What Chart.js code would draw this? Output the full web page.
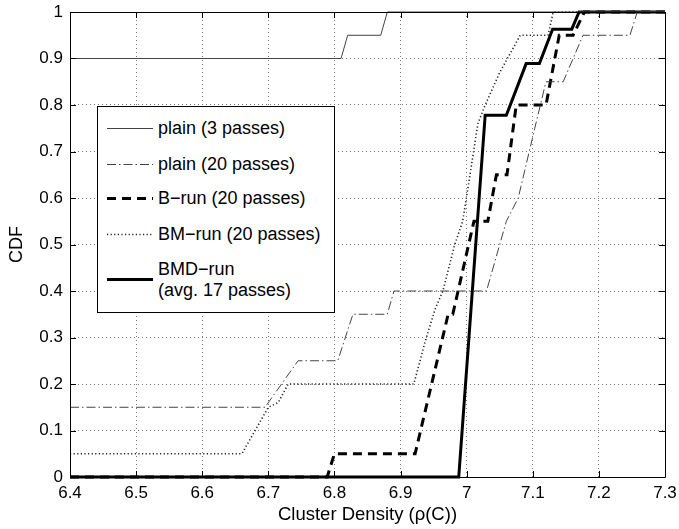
<!DOCTYPE html>
<html>
<head>
<meta charset="utf-8">
<script src="https://cdn.jsdelivr.net/npm/chart.js@4.4.1/dist/chart.umd.min.js"></script>
<style>
  html, body { margin: 0; padding: 0; background: #fff; }
  #wrap { position: relative; width: 679px; height: 529px; }
  #legend {
    position: absolute; left: 97px; top: 106px; width: 236px; height: 205px;
    border: 1px solid #000; background: #fff;
    font-family: "Liberation Sans", Arial, Helvetica, sans-serif; font-size: 18px; color: #000;
  }
  #legend .item { position: absolute; left: 9px; height: 20px; }
  #legend svg { position: absolute; left: 0; top: 0; }
  #legend span { position: absolute; left: 51px; top: 0; white-space: nowrap; line-height: 21px; }
</style>
</head>
<body>
<div id="wrap">
  <canvas id="chart" width="679" height="529"></canvas>
  <div id="legend"></div>
</div>
<script>
// axis ticks
const xTicks = [6.4, 6.5, 6.6, 6.7, 6.8, 6.9, 7.0, 7.1, 7.2, 7.3];
const xTickLabels = ['6.4', '6.5', '6.6', '6.7', '6.8', '6.9', '7', '7.1', '7.2', '7.3'];
const yTicks = [0, 0.1, 0.2, 0.3, 0.4, 0.5, 0.6, 0.7, 0.8, 0.9, 1];
const yTickLabels = ['0', '0.1', '0.2', '0.3', '0.4', '0.5', '0.6', '0.7', '0.8', '0.9', '1'];

// series
const plain3X = [6.4, 6.81, 6.82, 6.87, 6.88, 7.3];
const plain3Y = [0.9, 0.9, 0.95, 0.95, 1, 1];

const plain20X = [6.4, 6.695, 6.745, 6.805, 6.828, 6.88, 6.89, 7.03, 7.06, 7.078, 7.103, 7.12, 7.146, 7.176, 7.247, 7.258, 7.3];
const plain20Y = [0.15, 0.15, 0.25, 0.25, 0.35, 0.35, 0.4, 0.4, 0.55, 0.6, 0.75, 0.85, 0.85, 0.95, 0.95, 1, 1];

const bRunX = [6.4, 6.789, 6.8, 6.922, 6.972, 6.979, 7.011, 7.032, 7.045, 7.061, 7.075, 7.12, 7.14, 7.161, 7.178, 7.3];
const bRunY = [0, 0, 0.05, 0.05, 0.35, 0.35, 0.55, 0.55, 0.65, 0.65, 0.8, 0.8, 0.95, 0.95, 1, 1];

const bmRunX = [6.4, 6.66, 6.7, 6.715, 6.73, 6.92, 6.937, 6.952, 6.964, 6.982, 6.994, 7.005, 7.017, 7.028, 7.05, 7.081, 7.123, 7.131, 7.3];
const bmRunY = [0.05, 0.05, 0.15, 0.16, 0.2, 0.2, 0.29, 0.36, 0.4, 0.5, 0.55, 0.65, 0.76, 0.8, 0.87, 0.95, 0.95, 1, 1];

const bmdRunX = [6.4, 6.988, 7.028, 7.06, 7.09, 7.11, 7.13, 7.159, 7.17, 7.3];
const bmdRunY = [0, 0, 0.778, 0.778, 0.889, 0.889, 0.963, 0.963, 1, 1];

const seriesLabels = ['plain (3 passes)', 'plain (20 passes)', 'B\u2212run (20 passes)', 'BM\u2212run (20 passes)', 'BMD\u2212run\n(avg. 17 passes)'];

const FONT = '"Liberation Sans", Arial, Helvetica, sans-serif';

function points(xs, ys) {
    return xs.map((x, i) => ({ x: x, y: ys[i] }));
}

const styles = [
    { color: '#444', width: 1, dash: [] },
    { color: '#444', width: 1, dash: [9, 3, 1.5, 3] },
    { color: '#000', width: 3, dash: [9, 6] },
    { color: '#222', width: 1.6, dash: [1.2, 2.4] },
    { color: '#000', width: 3, dash: [] }
];

const seriesData = [
    points(plain3X, plain3Y),
    points(plain20X, plain20Y),
    points(bRunX, bRunY),
    points(bmRunX, bmRunY),
    points(bmdRunX, bmdRunY)
];

const datasets = seriesData.map((d, i) => ({
    label: seriesLabels[i],
    data: d,
    borderColor: styles[i].color,
    borderWidth: styles[i].width,
    borderDash: styles[i].dash,
    pointRadius: 0,
    tension: 0,
    fill: false,
    clip: 4
}));

// box around the plot + inward tick marks (MATLAB look)
const axesBox = {
    id: 'axesBox',
    afterDatasetsDraw(chart) {
        const { ctx, chartArea: a, scales: { x, y } } = chart;
        ctx.save();
        ctx.strokeStyle = '#000';
        ctx.lineWidth = 1;
        ctx.setLineDash([]);
        ctx.beginPath();
        ctx.rect(Math.round(a.left) + 0.5, Math.round(a.top) + 0.5, Math.round(a.right - a.left), Math.round(a.bottom - a.top));
        x.ticks.forEach(t => {
            const px = Math.round(x.getPixelForValue(t.value)) + 0.5;
            ctx.moveTo(px, a.bottom); ctx.lineTo(px, a.bottom - 6);
            ctx.moveTo(px, a.top); ctx.lineTo(px, a.top + 6);
        });
        y.ticks.forEach(t => {
            const py = Math.round(y.getPixelForValue(t.value)) + 0.5;
            ctx.moveTo(a.left, py); ctx.lineTo(a.left + 6, py);
            ctx.moveTo(a.right, py); ctx.lineTo(a.right - 6, py);
        });
        ctx.stroke();
        ctx.restore();
    }
};

new Chart(document.getElementById('chart'), {
    type: 'line',
    data: { datasets: datasets },
    options: {
        responsive: false,
        animation: false,
        layout: { padding: { left: 0, right: 14, top: 12, bottom: 0 } },
        plugins: { legend: { display: false }, tooltip: { enabled: false } },
        scales: {
            x: {
                type: 'linear',
                min: 6.4, max: 7.3,
                afterBuildTicks: s => { s.ticks = xTicks.map(v => ({ value: v })); },
                afterFit: s => { s.height = 52; s.paddingLeft = 0; s.paddingRight = 0; },
                ticks: {
                    color: '#000', font: { family: FONT, size: 17 }, padding: 6, maxRotation: 0,
                    callback: (v, i) => xTickLabels[i]
                },
                grid: { color: '#777', drawTicks: false },
                border: { display: false, dash: [1, 3] },
                title: { display: true, text: 'Cluster Density (\u03c1(C))', color: '#000', font: { family: FONT, size: 18.5 }, padding: { top: 0, bottom: 3 } }
            },
            y: {
                type: 'linear',
                min: 0, max: 1,
                afterBuildTicks: s => { s.ticks = yTicks.map(v => ({ value: v })); },
                afterFit: s => { s.width = 70; s.paddingTop = 0; s.paddingBottom = 0; },
                ticks: {
                    color: '#000', font: { family: FONT, size: 17 }, padding: 7,
                    callback: (v, i) => yTickLabels[i]
                },
                grid: { color: '#777', drawTicks: false },
                border: { display: false, dash: [1, 3] },
                title: { display: true, text: 'CDF', color: '#000', font: { family: FONT, size: 18 }, padding: { top: 6, bottom: 0 } }
            }
        }
    },
    plugins: [axesBox]
});

// HTML legend inside the plot, like the original
const legendRows = [21, 57, 91, 127];
const legend = document.getElementById('legend');
function sampleSvg(st, y) {
    const dash = st.dash.length ? st.dash.join(' ') : 'none';
    return '<svg width="46" height="44"><line x1="0" x2="46" y1="' + y + '" y2="' + y + '" stroke="' + st.color +
        '" stroke-width="' + st.width + '" stroke-dasharray="' + dash + '"/></svg>';
}
seriesLabels.forEach((lab, i) => {
    const div = document.createElement('div');
    div.className = 'item';
    if (i < 4) {
        div.style.top = (legendRows[i] - 10) + 'px';
        div.innerHTML = sampleSvg(styles[i], 10.5) + '<span>' + lab + '</span>';
    } else {
        div.style.top = '152px';
        const lines = lab.split('\n');
        div.innerHTML = sampleSvg(styles[i], 20.5) + '<span>' + lines[0] + '<br>' + lines[1] + '</span>';
    }
    legend.appendChild(div);
});
</script>
</body>
</html>
